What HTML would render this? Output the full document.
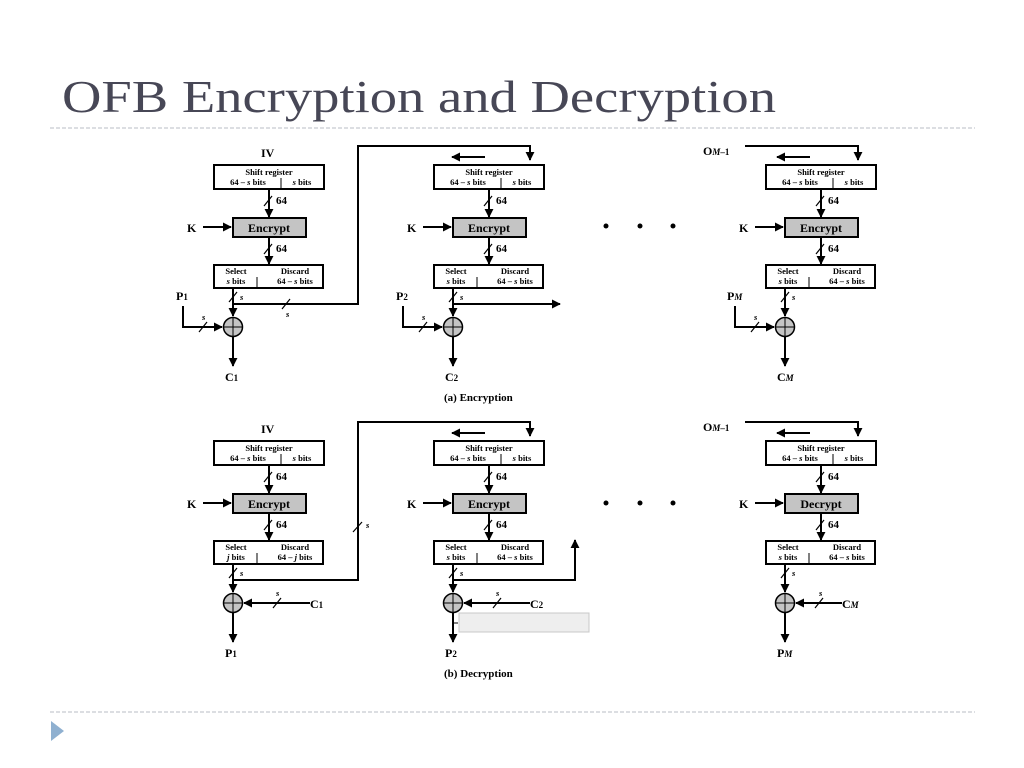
<!DOCTYPE html>
<html><head><meta charset="utf-8"><style>
body{margin:0;background:#fff;width:1024px;height:768px;overflow:hidden}
svg{display:block}
.t{font-family:"Liberation Serif",serif;font-weight:bold;fill:#000}
.s{font-size:8.5px}
.m{font-size:11px}
.l{font-size:12px}
.i{font-style:italic}
</style></head><body>
<svg width="1024" height="768" viewBox="0 0 1024 768" xmlns="http://www.w3.org/2000/svg">
<defs>
<marker id="a" viewBox="0 0 10 10" refX="9" refY="5" markerWidth="9" markerHeight="9" markerUnits="userSpaceOnUse" orient="auto"><path d="M0,0 L10,5 L0,10 z" fill="#000"/></marker>
</defs>
<text x="62" y="112" font-family="Liberation Serif,serif" font-size="46" fill="#474756" textLength="714" lengthAdjust="spacingAndGlyphs">OFB Encryption and Decryption</text>
<line x1="50" y1="128" x2="975" y2="128" stroke="#b8bcc6" stroke-width="1" stroke-dasharray="4,2"/>
<line x1="50" y1="712" x2="975" y2="712" stroke="#b8bcc6" stroke-width="1" stroke-dasharray="4,2"/>
<path d="M51,721 L64,731 L51,741 z" fill="#8fb0d0"/>

<g stroke="#000" stroke-width="2" fill="none">
<!-- feedback wires enc -->
<polyline points="233,304 358,304 358,146 530,146 530,160" marker-end="url(#a)"/>
<line x1="485" y1="157" x2="452" y2="157" marker-end="url(#a)"/>
<line x1="454" y1="304" x2="560" y2="304" marker-end="url(#a)"/>
<polyline points="745,146 858,146 858,160" marker-end="url(#a)"/>
<line x1="810" y1="157" x2="777" y2="157" marker-end="url(#a)"/>
<!-- dec -->
<polyline points="233,580 358,580 358,422 530,422 530,436" marker-end="url(#a)"/>
<line x1="485" y1="433" x2="452" y2="433" marker-end="url(#a)"/>
<polyline points="454,580 575,580 575,540" marker-end="url(#a)"/>
<polyline points="745,422 858,422 858,436" marker-end="url(#a)"/>
<line x1="810" y1="433" x2="777" y2="433" marker-end="url(#a)"/>
<line x1="282" y1="309" x2="290" y2="299" stroke-width="1.2"/>
<line x1="353" y1="532" x2="362" y2="522" stroke-width="1.2"/>
</g>
<text class="t s i" x="286" y="317">s</text>
<text class="t s i" x="366" y="528">s</text>
<text class="t" x="703" y="155" font-size="12">O<tspan font-size="9" font-style="italic">M</tspan><tspan font-size="9">–1</tspan></text>
<text class="t" x="703" y="431" font-size="12">O<tspan font-size="9" font-style="italic">M</tspan><tspan font-size="9">–1</tspan></text>
<text class="t l" x="261" y="157">IV</text>
<text class="t l" x="261" y="433">IV</text>
<g fill="#000"><circle cx="606" cy="226" r="2.5"/><circle cx="640" cy="226" r="2.5"/><circle cx="673" cy="226" r="2.5"/>
<circle cx="606" cy="503" r="2.5"/><circle cx="640" cy="503" r="2.5"/><circle cx="673" cy="503" r="2.5"/></g>
<text class="t m" x="444" y="401">(a) Encryption</text>
<text class="t m" x="444" y="677">(b) Decryption</text>

<!-- encryption columns -->
<g id="c1">
<g stroke="#000" fill="none" stroke-width="2">
<rect x="214" y="165" width="110" height="24" fill="#fff"/>
<line x1="281" y1="178" x2="281" y2="189" stroke-width="1"/>
<line x1="269" y1="189" x2="269" y2="217" marker-end="url(#a)"/>
<line x1="264" y1="206" x2="272" y2="196" stroke-width="1.2"/>
<rect x="233" y="218" width="73" height="19" fill="#c4c4c4"/>
<line x1="203" y1="227" x2="231" y2="227" marker-end="url(#a)"/>
<line x1="269" y1="237" x2="269" y2="264" marker-end="url(#a)"/>
<line x1="264" y1="254" x2="272" y2="244" stroke-width="1.2"/>
<rect x="214" y="265" width="109" height="23" fill="#fff"/>
<line x1="257" y1="277" x2="257" y2="288" stroke-width="1"/>
<line x1="233" y1="288" x2="233" y2="316" marker-end="url(#a)"/>
<line x1="229" y1="302" x2="237" y2="292" stroke-width="1.2"/>
<circle cx="233" cy="327" r="9.5" fill="#c4c4c4" stroke-width="1.5"/>
<line x1="223.5" y1="327" x2="242.5" y2="327" stroke-width="1"/>
<line x1="233" y1="317.5" x2="233" y2="336.5" stroke-width="1"/>
</g>
<text class="t s" x="269" y="175" text-anchor="middle">Shift register</text>
<text class="t s" x="248" y="185" text-anchor="middle">64 – <tspan font-style="italic">s</tspan> bits</text>
<text class="t s" x="302" y="185" text-anchor="middle"><tspan font-style="italic">s</tspan> bits</text>
<text class="t m" x="276" y="204">64</text>
<text class="t m" x="276" y="252">64</text>
<text class="t l" x="269" y="232" text-anchor="middle" fill="#222">Encrypt</text>
<text class="t l" x="187" y="232">K</text>
<text class="t s" x="236" y="274" text-anchor="middle">Select</text>
<text class="t s" x="236" y="284" text-anchor="middle"><tspan font-style="italic">s</tspan> bits</text>
<text class="t s" x="295" y="274" text-anchor="middle">Discard</text>
<text class="t s" x="295" y="284" text-anchor="middle">64 – <tspan font-style="italic">s</tspan> bits</text>
<text class="t s i" x="240" y="300">s</text>
</g>
<g stroke="#000" fill="none" stroke-width="2">
<polyline points="183,306 183,327 222,327" marker-end="url(#a)"/>
<line x1="199" y1="332" x2="207" y2="322" stroke-width="1.2"/>
<line x1="233" y1="337" x2="233" y2="366" marker-end="url(#a)"/>
<polyline points="403,306 403,327 442,327" marker-end="url(#a)"/>
<line x1="419" y1="332" x2="427" y2="322" stroke-width="1.2"/>
<line x1="453" y1="337" x2="453" y2="366" marker-end="url(#a)"/>
<polyline points="735,306 735,327 774,327" marker-end="url(#a)"/>
<line x1="751" y1="332" x2="759" y2="322" stroke-width="1.2"/>
<line x1="785" y1="337" x2="785" y2="366" marker-end="url(#a)"/>
</g>
<text class="t s i" x="202" y="320">s</text><text class="t s i" x="422" y="320">s</text><text class="t s i" x="754" y="320">s</text>
<text class="t l" x="176" y="300">P<tspan font-size="9">1</tspan></text>
<text class="t l" x="396" y="300">P<tspan font-size="9">2</tspan></text>
<text class="t l" x="727" y="300">P<tspan font-size="9" font-style="italic">M</tspan></text>
<text class="t l" x="225" y="381">C<tspan font-size="9">1</tspan></text>
<text class="t l" x="445" y="381">C<tspan font-size="9">2</tspan></text>
<text class="t l" x="777" y="381">C<tspan font-size="9" font-style="italic">M</tspan></text>

<g transform="translate(220,0)">
<g stroke="#000" fill="none" stroke-width="2">
<rect x="214" y="165" width="110" height="24" fill="#fff"/><line x1="281" y1="178" x2="281" y2="189" stroke-width="1"/>
<line x1="269" y1="189" x2="269" y2="217" marker-end="url(#a)"/><line x1="264" y1="206" x2="272" y2="196" stroke-width="1.2"/>
<rect x="233" y="218" width="73" height="19" fill="#c4c4c4"/><line x1="203" y1="227" x2="231" y2="227" marker-end="url(#a)"/>
<line x1="269" y1="237" x2="269" y2="264" marker-end="url(#a)"/><line x1="264" y1="254" x2="272" y2="244" stroke-width="1.2"/>
<rect x="214" y="265" width="109" height="23" fill="#fff"/><line x1="257" y1="277" x2="257" y2="288" stroke-width="1"/>
<line x1="233" y1="288" x2="233" y2="316" marker-end="url(#a)"/><line x1="229" y1="302" x2="237" y2="292" stroke-width="1.2"/>
<circle cx="233" cy="327" r="9.5" fill="#c4c4c4" stroke-width="1.5"/><line x1="223.5" y1="327" x2="242.5" y2="327" stroke-width="1"/><line x1="233" y1="317.5" x2="233" y2="336.5" stroke-width="1"/>
</g>
<text class="t s" x="269" y="175" text-anchor="middle">Shift register</text>
<text class="t s" x="248" y="185" text-anchor="middle">64 – <tspan font-style="italic">s</tspan> bits</text>
<text class="t s" x="302" y="185" text-anchor="middle"><tspan font-style="italic">s</tspan> bits</text>
<text class="t m" x="276" y="204">64</text><text class="t m" x="276" y="252">64</text>
<text class="t l" x="269" y="232" text-anchor="middle" fill="#222">Encrypt</text><text class="t l" x="187" y="232">K</text>
<text class="t s" x="236" y="274" text-anchor="middle">Select</text><text class="t s" x="236" y="284" text-anchor="middle"><tspan font-style="italic">s</tspan> bits</text>
<text class="t s" x="295" y="274" text-anchor="middle">Discard</text><text class="t s" x="295" y="284" text-anchor="middle">64 – <tspan font-style="italic">s</tspan> bits</text>
<text class="t s i" x="240" y="300">s</text>
</g>

<g transform="translate(552,0)">
<g stroke="#000" fill="none" stroke-width="2">
<rect x="214" y="165" width="110" height="24" fill="#fff"/><line x1="281" y1="178" x2="281" y2="189" stroke-width="1"/>
<line x1="269" y1="189" x2="269" y2="217" marker-end="url(#a)"/><line x1="264" y1="206" x2="272" y2="196" stroke-width="1.2"/>
<rect x="233" y="218" width="73" height="19" fill="#c4c4c4"/><line x1="203" y1="227" x2="231" y2="227" marker-end="url(#a)"/>
<line x1="269" y1="237" x2="269" y2="264" marker-end="url(#a)"/><line x1="264" y1="254" x2="272" y2="244" stroke-width="1.2"/>
<rect x="214" y="265" width="109" height="23" fill="#fff"/><line x1="257" y1="277" x2="257" y2="288" stroke-width="1"/>
<line x1="233" y1="288" x2="233" y2="316" marker-end="url(#a)"/><line x1="229" y1="302" x2="237" y2="292" stroke-width="1.2"/>
<circle cx="233" cy="327" r="9.5" fill="#c4c4c4" stroke-width="1.5"/><line x1="223.5" y1="327" x2="242.5" y2="327" stroke-width="1"/><line x1="233" y1="317.5" x2="233" y2="336.5" stroke-width="1"/>
</g>
<text class="t s" x="269" y="175" text-anchor="middle">Shift register</text>
<text class="t s" x="248" y="185" text-anchor="middle">64 – <tspan font-style="italic">s</tspan> bits</text>
<text class="t s" x="302" y="185" text-anchor="middle"><tspan font-style="italic">s</tspan> bits</text>
<text class="t m" x="276" y="204">64</text><text class="t m" x="276" y="252">64</text>
<text class="t l" x="269" y="232" text-anchor="middle" fill="#222">Encrypt</text><text class="t l" x="187" y="232">K</text>
<text class="t s" x="236" y="274" text-anchor="middle">Select</text><text class="t s" x="236" y="284" text-anchor="middle"><tspan font-style="italic">s</tspan> bits</text>
<text class="t s" x="295" y="274" text-anchor="middle">Discard</text><text class="t s" x="295" y="284" text-anchor="middle">64 – <tspan font-style="italic">s</tspan> bits</text>
<text class="t s i" x="240" y="300">s</text>
</g>

<!-- decryption row -->
<g transform="translate(0,276)">
<g stroke="#000" fill="none" stroke-width="2">
<rect x="214" y="165" width="110" height="24" fill="#fff"/><line x1="281" y1="178" x2="281" y2="189" stroke-width="1"/>
<line x1="269" y1="189" x2="269" y2="217" marker-end="url(#a)"/><line x1="264" y1="206" x2="272" y2="196" stroke-width="1.2"/>
<rect x="233" y="218" width="73" height="19" fill="#c4c4c4"/><line x1="203" y1="227" x2="231" y2="227" marker-end="url(#a)"/>
<line x1="269" y1="237" x2="269" y2="264" marker-end="url(#a)"/><line x1="264" y1="254" x2="272" y2="244" stroke-width="1.2"/>
<rect x="214" y="265" width="109" height="23" fill="#fff"/><line x1="257" y1="277" x2="257" y2="288" stroke-width="1"/>
<line x1="233" y1="288" x2="233" y2="316" marker-end="url(#a)"/><line x1="229" y1="302" x2="237" y2="292" stroke-width="1.2"/>
<circle cx="233" cy="327" r="9.5" fill="#c4c4c4" stroke-width="1.5"/><line x1="223.5" y1="327" x2="242.5" y2="327" stroke-width="1"/><line x1="233" y1="317.5" x2="233" y2="336.5" stroke-width="1"/>
<line x1="310" y1="327" x2="244" y2="327" marker-end="url(#a)"/><line x1="273" y1="332" x2="281" y2="322" stroke-width="1.2"/>
<line x1="233" y1="337" x2="233" y2="366" marker-end="url(#a)"/>
</g>
<text class="t s" x="269" y="175" text-anchor="middle">Shift register</text>
<text class="t s" x="248" y="185" text-anchor="middle">64 – <tspan font-style="italic">s</tspan> bits</text>
<text class="t s" x="302" y="185" text-anchor="middle"><tspan font-style="italic">s</tspan> bits</text>
<text class="t m" x="276" y="204">64</text><text class="t m" x="276" y="252">64</text>
<text class="t l" x="269" y="232" text-anchor="middle" fill="#222">Encrypt</text><text class="t l" x="187" y="232">K</text>
<text class="t s" x="236" y="274" text-anchor="middle">Select</text><text class="t s" x="236" y="284" text-anchor="middle"><tspan font-style="italic">j</tspan> bits</text>
<text class="t s" x="295" y="274" text-anchor="middle">Discard</text><text class="t s" x="295" y="284" text-anchor="middle">64 – <tspan font-style="italic">j</tspan> bits</text>
<text class="t s i" x="240" y="300">s</text><text class="t s i" x="276" y="320">s</text>
<text class="t l" x="310" y="332">C<tspan font-size="9">1</tspan></text>
<text class="t l" x="225" y="381">P<tspan font-size="9">1</tspan></text>
</g>

<g transform="translate(220,276)">
<g stroke="#000" fill="none" stroke-width="2">
<rect x="214" y="165" width="110" height="24" fill="#fff"/><line x1="281" y1="178" x2="281" y2="189" stroke-width="1"/>
<line x1="269" y1="189" x2="269" y2="217" marker-end="url(#a)"/><line x1="264" y1="206" x2="272" y2="196" stroke-width="1.2"/>
<rect x="233" y="218" width="73" height="19" fill="#c4c4c4"/><line x1="203" y1="227" x2="231" y2="227" marker-end="url(#a)"/>
<line x1="269" y1="237" x2="269" y2="264" marker-end="url(#a)"/><line x1="264" y1="254" x2="272" y2="244" stroke-width="1.2"/>
<rect x="214" y="265" width="109" height="23" fill="#fff"/><line x1="257" y1="277" x2="257" y2="288" stroke-width="1"/>
<line x1="233" y1="288" x2="233" y2="316" marker-end="url(#a)"/><line x1="229" y1="302" x2="237" y2="292" stroke-width="1.2"/>
<circle cx="233" cy="327" r="9.5" fill="#c4c4c4" stroke-width="1.5"/><line x1="223.5" y1="327" x2="242.5" y2="327" stroke-width="1"/><line x1="233" y1="317.5" x2="233" y2="336.5" stroke-width="1"/>
<line x1="310" y1="327" x2="244" y2="327" marker-end="url(#a)"/><line x1="273" y1="332" x2="281" y2="322" stroke-width="1.2"/>
<line x1="233" y1="337" x2="233" y2="366" marker-end="url(#a)"/>
</g>
<rect x="239" y="337" width="130" height="19" fill="#eeeeee" stroke="#c8c8c8" stroke-width="1"/>
<line x1="233" y1="347" x2="238" y2="347" stroke="#000" stroke-width="1"/>
<text class="t s" x="269" y="175" text-anchor="middle">Shift register</text>
<text class="t s" x="248" y="185" text-anchor="middle">64 – <tspan font-style="italic">s</tspan> bits</text>
<text class="t s" x="302" y="185" text-anchor="middle"><tspan font-style="italic">s</tspan> bits</text>
<text class="t m" x="276" y="204">64</text><text class="t m" x="276" y="252">64</text>
<text class="t l" x="269" y="232" text-anchor="middle" fill="#222">Encrypt</text><text class="t l" x="187" y="232">K</text>
<text class="t s" x="236" y="274" text-anchor="middle">Select</text><text class="t s" x="236" y="284" text-anchor="middle"><tspan font-style="italic">s</tspan> bits</text>
<text class="t s" x="295" y="274" text-anchor="middle">Discard</text><text class="t s" x="295" y="284" text-anchor="middle">64 – <tspan font-style="italic">s</tspan> bits</text>
<text class="t s i" x="240" y="300">s</text><text class="t s i" x="276" y="320">s</text>
<text class="t l" x="310" y="332">C<tspan font-size="9">2</tspan></text>
<text class="t l" x="225" y="381">P<tspan font-size="9">2</tspan></text>
</g>

<g transform="translate(552,276)">
<g stroke="#000" fill="none" stroke-width="2">
<rect x="214" y="165" width="110" height="24" fill="#fff"/><line x1="281" y1="178" x2="281" y2="189" stroke-width="1"/>
<line x1="269" y1="189" x2="269" y2="217" marker-end="url(#a)"/><line x1="264" y1="206" x2="272" y2="196" stroke-width="1.2"/>
<rect x="233" y="218" width="73" height="19" fill="#c4c4c4"/><line x1="203" y1="227" x2="231" y2="227" marker-end="url(#a)"/>
<line x1="269" y1="237" x2="269" y2="264" marker-end="url(#a)"/><line x1="264" y1="254" x2="272" y2="244" stroke-width="1.2"/>
<rect x="214" y="265" width="109" height="23" fill="#fff"/><line x1="257" y1="277" x2="257" y2="288" stroke-width="1"/>
<line x1="233" y1="288" x2="233" y2="316" marker-end="url(#a)"/><line x1="229" y1="302" x2="237" y2="292" stroke-width="1.2"/>
<circle cx="233" cy="327" r="9.5" fill="#c4c4c4" stroke-width="1.5"/><line x1="223.5" y1="327" x2="242.5" y2="327" stroke-width="1"/><line x1="233" y1="317.5" x2="233" y2="336.5" stroke-width="1"/>
<line x1="290" y1="327" x2="244" y2="327" marker-end="url(#a)"/><line x1="263" y1="332" x2="271" y2="322" stroke-width="1.2"/>
<line x1="233" y1="337" x2="233" y2="366" marker-end="url(#a)"/>
</g>
<text class="t s" x="269" y="175" text-anchor="middle">Shift register</text>
<text class="t s" x="248" y="185" text-anchor="middle">64 – <tspan font-style="italic">s</tspan> bits</text>
<text class="t s" x="302" y="185" text-anchor="middle"><tspan font-style="italic">s</tspan> bits</text>
<text class="t m" x="276" y="204">64</text><text class="t m" x="276" y="252">64</text>
<text class="t l" x="269" y="232" text-anchor="middle" fill="#222">Decrypt</text><text class="t l" x="187" y="232">K</text>
<text class="t s" x="236" y="274" text-anchor="middle">Select</text><text class="t s" x="236" y="284" text-anchor="middle"><tspan font-style="italic">s</tspan> bits</text>
<text class="t s" x="295" y="274" text-anchor="middle">Discard</text><text class="t s" x="295" y="284" text-anchor="middle">64 – <tspan font-style="italic">s</tspan> bits</text>
<text class="t s i" x="240" y="300">s</text><text class="t s i" x="267" y="320">s</text>
<text class="t l" x="290" y="332">C<tspan font-size="9" font-style="italic">M</tspan></text>
<text class="t l" x="225" y="381">P<tspan font-size="9" font-style="italic">M</tspan></text>
</g>
</svg>
</body></html>
